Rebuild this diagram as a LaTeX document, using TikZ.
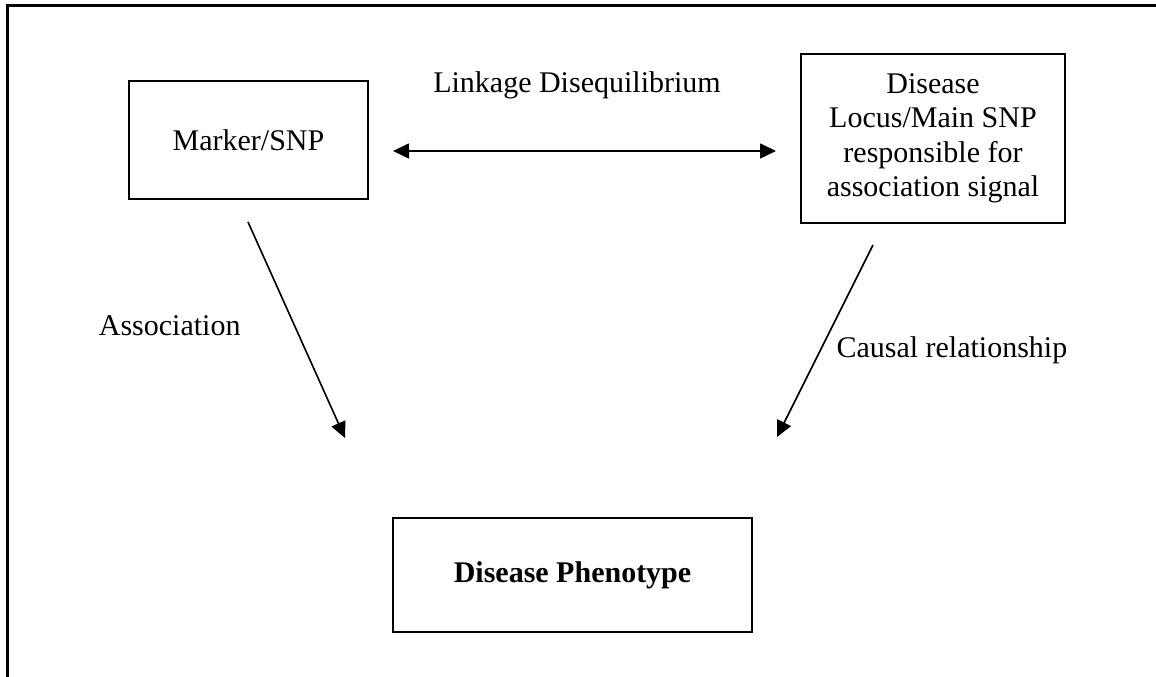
\documentclass[tikz,border=0pt]{standalone}
\usepackage{fontspec}
\setmainfont{Liberation Serif}
\usetikzlibrary{arrows.meta}
\begin{document}
\begin{tikzpicture}[x=0.4pt,y=-0.4pt,
  box/.style={draw,line width=0.78pt,inner sep=0pt,align=center,font=\fontsize{12}{13.8}\selectfont},
  lbl/.style={inner sep=0pt,font=\fontsize{12}{13.8}\selectfont},
  conn/.style={line width=0.65pt,-{Triangle[length=6.4pt,width=6pt]}},
  dconn/.style={line width=0.65pt,{Triangle[length=6.4pt,width=6pt]}-{Triangle[length=6.4pt,width=6pt]}}]
\useasboundingbox (0,0) rectangle (1156,677);
\draw[line width=0.9pt] (7.5,677) -- (7.5,5.5) -- (1156,5.5);
\node[box,minimum width=95.6pt,minimum height=47.2pt] (marker) at (248.5,140) {Marker/SNP};
\node[box,minimum width=105.6pt,minimum height=67.6pt] (locus) at (933,138.5) {Disease\\Locus/Main SNP\\responsible for\\association signal};
\node[box,minimum width=143.6pt,minimum height=45.6pt,font=\fontsize{12}{13.8}\selectfont\bfseries] (pheno) at (572.5,575) {Disease Phenotype};
\coordinate (hl) at (393,151);
\coordinate (hr) at (776,151);
\coordinate (ls) at (248,222);
\coordinate (le) at (345,438);
\coordinate (rs) at (873,245);
\coordinate (re) at (777,437);
\draw[dconn] (hl) -- (hr);
\draw[conn] (ls) -- (le);
\draw[conn] (rs) -- (re);
\node[lbl] (ld) at (577,85) {Linkage Disequilibrium};
\node[lbl,anchor=east] (assoc) at (241,326) {Association};
\node[lbl,anchor=west] (causal) at (836,350) {Causal relationship};
\end{tikzpicture}
\end{document}
